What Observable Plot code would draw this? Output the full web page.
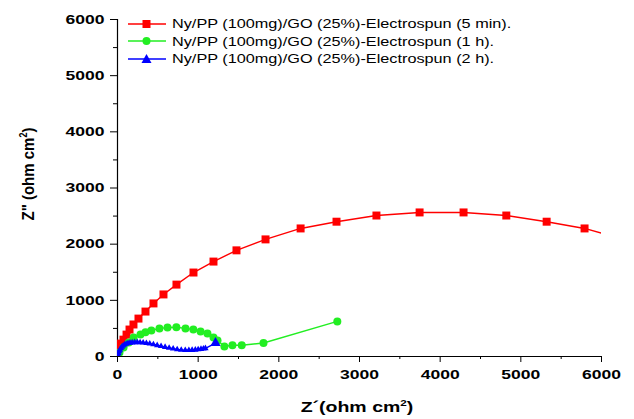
<!DOCTYPE html>
<html>
<head>
<meta charset="utf-8">
<script src="https://cdn.jsdelivr.net/npm/d3@7"></script>
<script src="https://cdn.jsdelivr.net/npm/@observablehq/plot@0.6"></script>
<style>
  html, body { margin: 0; padding: 0; background: #fff; }
  #wrap { position: relative; width: 634px; height: 419px; font-family: "Liberation Sans", Arial, sans-serif; }
  #wrap svg text { font-weight: bold; }
  .lbl { position: absolute; font-weight: bold; color: #000; white-space: nowrap; line-height: 1; }
  .lbl sup { font-size: 9px; }
  #legend { position: absolute; left: 128px; top: 15px; font-size: 13px; }
  .row { display: flex; align-items: center; height: 17.5px; }
  .row span { margin-left: 6px; display: inline-block; transform: scaleX(1.25); transform-origin: left center; }
</style>
</head>
<body>
<div id="wrap"></div>
<script>
// Series: Ny/PP (100mg)/GO (25%)-Electrospun (5 min).
const redX = [0, 12, 37, 74, 112, 149, 198, 260, 347, 446, 570, 731, 942, 1190, 1475, 1835, 2270, 2715, 3210, 3745, 4290, 4820, 5320, 5790, 6250];
const redY = [100, 160, 230, 300, 390, 480, 570, 675, 800, 945, 1105, 1280, 1495, 1690, 1890, 2085, 2280, 2400, 2510, 2565, 2565, 2510, 2400, 2280, 2100];
// Series: (1 h).
const greenX = [0, 25, 75, 140, 200, 285, 347, 420, 520, 620, 730, 843, 940, 1030, 1115, 1190, 1240, 1325, 1425, 1540, 1810, 2725];
const greenY = [0, 70, 160, 250, 340, 390, 430, 465, 500, 515, 520, 500, 480, 445, 410, 340, 285, 180, 200, 200, 240, 625];
// Series: (2 h).
const blueX = [0, 5, 12, 20, 30, 42, 55, 70, 88, 108, 130, 155, 182, 212, 245, 280, 318, 358, 400, 445, 492, 540, 590, 640, 690, 740, 790, 840, 885, 925, 965, 1000, 1035, 1065, 1090, 1215];
const blueY = [0, 30, 60, 90, 120, 148, 172, 192, 210, 225, 236, 244, 249, 252, 252, 250, 246, 238, 228, 215, 200, 185, 168, 152, 138, 126, 117, 112, 112, 115, 120, 126, 132, 138, 145, 240];

const seriesNames = [
  "Ny/PP (100mg)/GO (25%)-Electrospun (5 min).",
  "Ny/PP (100mg)/GO (25%)-Electrospun (1 h).",
  "Ny/PP (100mg)/GO (25%)-Electrospun (2 h)."
];
const majorTicks = [0, 1000, 2000, 3000, 4000, 5000, 6000];
const minorTicks = [500, 1500, 2500, 3500, 4500, 5500];

const RED = "#ff0000", GREEN = "#22ee22", BLUE = "#0000ff";

const toRows = (xs, ys) => xs.map((x, i) => ({x, y: ys[i]}));
const red = toRows(redX, redY);
const green = toRows(greenX, greenY);
const blue = toRows(blueX, blueY);
const blueMain = blue.slice(0, -1);
const blueLast = blue.slice(-1);

const chart = Plot.plot({
  width: 634,
  height: 419,
  marginLeft: 117,
  marginRight: 33,
  marginTop: 19,
  marginBottom: 63,
  style: {fontFamily: "'Liberation Sans', Arial, sans-serif", fontSize: "13px", color: "#000"},
  x: {domain: [0, 6000]},
  y: {domain: [0, 6000]},
  marks: [
    Plot.axisX({ticks: majorTicks, tickSize: 6, tickPadding: 7, label: null, tickFormat: d => String(d), fontSize: 13}),
    Plot.axisX({ticks: minorTicks, tickSize: 3, text: null, label: null}),
    Plot.axisY({ticks: majorTicks, tickSize: 7, tickPadding: 6, label: null, tickFormat: d => String(d), fontSize: 13}),
    Plot.axisY({ticks: minorTicks, tickSize: 4, text: null, label: null}),
    Plot.ruleY([0], {stroke: "#000", strokeWidth: 1.2}),
    Plot.ruleX([0], {stroke: "#000", strokeWidth: 1.2}),
    Plot.line(red, {x: "x", y: "y", stroke: RED, strokeWidth: 1.4, clip: true}),
    Plot.dot(red, {x: "x", y: "y", symbol: "square", r: 4.5, fill: RED, stroke: "none", clip: true}),
    Plot.line(green, {x: "x", y: "y", stroke: GREEN, strokeWidth: 1.4, clip: true}),
    Plot.dot(green, {x: "x", y: "y", symbol: "circle", r: 4, fill: GREEN, stroke: "none", clip: true}),
    Plot.line(blue, {x: "x", y: "y", stroke: BLUE, strokeWidth: 1.4, clip: true}),
    Plot.dot(blueMain, {x: "x", y: "y", symbol: "triangle", r: 2.4, fill: BLUE, stroke: "none", clip: true}),
    Plot.dot(blueLast, {x: "x", y: "y", symbol: "triangle", r: 3.8, fill: BLUE, stroke: "none", clip: true})
  ]
});

// stretch tick labels horizontally (the reference text is horizontally stretched)
d3.select(chart).selectAll("g[aria-label$='tick label'] text").each(function () {
  const t = this.getAttribute("transform") || "";
  this.setAttribute("transform", t + " scale(1.35,1)");
});

const wrap = document.getElementById("wrap");
wrap.appendChild(chart);

// Axis titles
const xl = document.createElement("div");
xl.className = "lbl";
xl.style.fontSize = "15px";
xl.innerHTML = "Z´(ohm cm<sup>2</sup>)";
xl.style.left = "357px"; xl.style.top = "406px";
xl.style.transform = "translate(-50%, -50%) scaleX(1.3)";
wrap.appendChild(xl);

const yl = document.createElement("div");
yl.className = "lbl";
yl.style.fontSize = "15px";
yl.innerHTML = "Z\" (ohm cm<sup>2</sup>)";
yl.style.left = "28px"; yl.style.top = "174px";
yl.style.transform = "translate(-50%, -50%) rotate(-90deg) scaleY(1.15)";
wrap.appendChild(yl);

// Legend
const legend = document.createElement("div");
legend.id = "legend";
const swatches = [
  [RED, '<rect x="14.5" y="4" width="8" height="8" fill="' + RED + '"/>'],
  [GREEN, '<circle cx="18.5" cy="8" r="4" fill="' + GREEN + '"/>'],
  [BLUE, '<path d="M18.5 3 L23.5 12 L13.5 12 Z" fill="' + BLUE + '"/>']
];
seriesNames.forEach((name, i) => {
  const row = document.createElement("div");
  row.className = "row";
  row.innerHTML = '<svg width="38" height="16"><line x1="0" x2="38" y1="8" y2="8" stroke="' + swatches[i][0] + '" stroke-width="1.4"/>' + swatches[i][1] + '</svg><span>' + name + '</span>';
  legend.appendChild(row);
});
wrap.appendChild(legend);
</script>
</body>
</html>
